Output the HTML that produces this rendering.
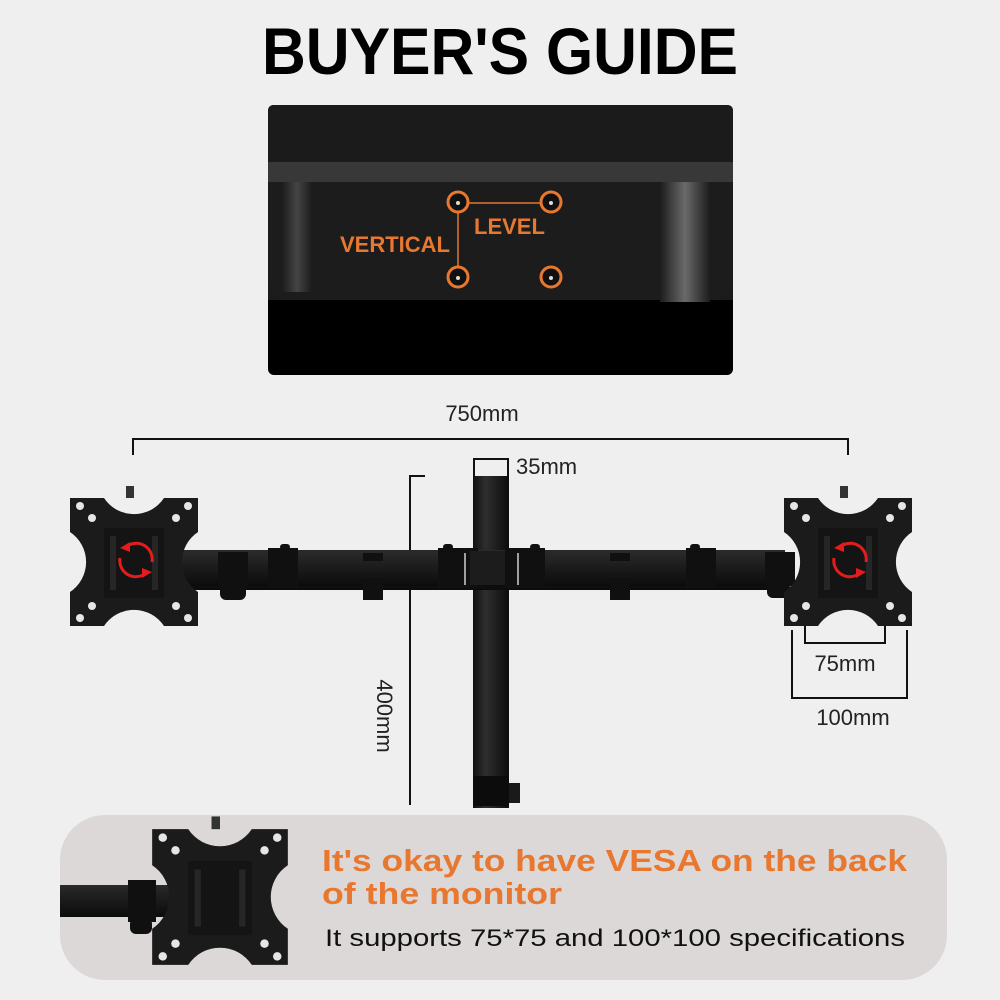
<!DOCTYPE html>
<html><head><meta charset="utf-8"><style>
html,body{margin:0;padding:0;background:#efefef;}
svg{display:block;}
text{font-family:"Liberation Sans","DejaVu Sans",sans-serif;}
</style></head><body>
<svg width="1000" height="1000" viewBox="0 0 1000 1000" xmlns="http://www.w3.org/2000/svg">
<defs>
<linearGradient id="pole" x1="0" x2="1" y1="0" y2="0">
<stop offset="0" stop-color="#111"/><stop offset="0.35" stop-color="#2e2e2e"/><stop offset="1" stop-color="#0c0c0c"/>
</linearGradient>
<linearGradient id="arm" x1="0" x2="0" y1="0" y2="1">
<stop offset="0" stop-color="#2a2a2a"/><stop offset="0.5" stop-color="#1a1a1a"/><stop offset="1" stop-color="#0c0c0c"/>
</linearGradient>
<linearGradient id="shine" x1="0" x2="1">
<stop offset="0" stop-color="#1c1c1c"/><stop offset="0.5" stop-color="#6a6a6a"/><stop offset="1" stop-color="#1c1c1c"/>
</linearGradient>
<linearGradient id="shine2" x1="0" x2="1">
<stop offset="0" stop-color="#1c1c1c"/><stop offset="0.5" stop-color="#444"/><stop offset="1" stop-color="#1c1c1c"/>
</linearGradient>
<g id="plate">
<path d="M-64,-64 L-30,-64 A36,36 0 0 0 30,-64 L64,-64 L64,-30 A36,36 0 0 0 64,30 L64,64 L30,64 A36,36 0 0 0 -30,64 L-64,64 L-64,30 A36,36 0 0 0 -64,-30 Z" fill="#1b1b1b"/>
<rect x="-30" y="-34" width="60" height="70" fill="#141414"/>
<rect x="-24" y="-26" width="6" height="54" fill="#262626"/>
<rect x="18" y="-26" width="6" height="54" fill="#262626"/>
<rect x="-8" y="-76" width="8" height="12" fill="#333"/>
<g fill="#e6e6e6">
<circle cx="-54" cy="-56" r="4"/><circle cx="54" cy="-56" r="4"/><circle cx="-54" cy="56" r="4"/><circle cx="54" cy="56" r="4"/>
<circle cx="-42" cy="-44" r="4"/><circle cx="42" cy="-44" r="4"/><circle cx="-42" cy="44" r="4"/><circle cx="42" cy="44" r="4"/>
</g>
</g>
<g id="rot">
<path d="M-10,-13 A16,16 0 0 1 16,2" fill="none" stroke="#e51c1c" stroke-width="3"/>
<path d="M10,13 A16,16 0 0 1 -16,-2" fill="none" stroke="#e51c1c" stroke-width="3"/>
<path d="M-16,-12 L-6,-18 L-6,-8 Z" fill="#e51c1c"/>
<path d="M16,12 L6,18 L6,8 Z" fill="#e51c1c"/>
</g>
</defs>

<text x="500" y="74" text-anchor="middle" font-size="66" font-weight="bold" textLength="476" lengthAdjust="spacingAndGlyphs" fill="#000">BUYER'S GUIDE</text>

<!-- monitor -->
<rect x="268" y="105" width="465" height="270" rx="6" fill="#000"/>
<path d="M274,105 H727 Q733,105 733,111 V300 H268 V111 Q268,105 274,105 Z" fill="#1b1b1b"/>
<rect x="268" y="162" width="465" height="20" fill="#383838"/>
<path d="M268,182 H733 V280 Q733,298 712,298 H290 Q268,298 268,280 Z" fill="#1c1c1c"/>
<rect x="282" y="182" width="30" height="110" fill="url(#shine2)"/>
<rect x="660" y="182" width="50" height="120" fill="url(#shine)"/>
<g stroke="#e8782f" fill="#111">
<line x1="458" y1="203" x2="551" y2="203" stroke-width="2" stroke="#b0602a"/>
<line x1="458" y1="203" x2="458" y2="277" stroke-width="2" stroke="#b0602a"/>
<circle cx="458" cy="202" r="10" stroke-width="3"/>
<circle cx="551" cy="202" r="10" stroke-width="3"/>
<circle cx="458" cy="277" r="10" stroke-width="3"/>
<circle cx="551" cy="277" r="10" stroke-width="3"/>
</g>
<g fill="#ddd"><circle cx="458" cy="203" r="2"/><circle cx="551" cy="203" r="2"/><circle cx="458" cy="278" r="2"/><circle cx="551" cy="278" r="2"/></g>
<text x="340" y="252" font-size="22" font-weight="bold" fill="#e8782f">VERTICAL</text>
<text x="474" y="234" font-size="22" font-weight="bold" fill="#e8782f">LEVEL</text>

<!-- dimensions -->
<g stroke="#111" stroke-width="2" fill="none">
<path d="M133,455 V439 H848 V455"/>
<path d="M474,476 V459 H508 V476"/>
<path d="M425,476 H410 V805"/>
<path d="M805,622 V643 H885 V622"/>
<path d="M792,630 V698 H907 V630"/>
</g>
<g font-size="22" fill="#222">
<text x="482" y="421" text-anchor="middle">750mm</text>
<text x="516" y="474">35mm</text>
<text x="845" y="671" text-anchor="middle">75mm</text>
<text x="853" y="725" text-anchor="middle">100mm</text>
<text transform="translate(377,716) rotate(90)" text-anchor="middle">400mm</text>
</g>

<!-- pole -->
<rect x="473" y="476" width="36" height="332" fill="url(#pole)"/>
<rect x="473" y="776" width="36" height="30" fill="#0c0c0c"/>
<rect x="509" y="783" width="11" height="20" fill="#1a1a1a"/>

<!-- arm -->
<path d="M170,550 H785 V590 H170 Z" fill="url(#arm)"/>
<rect x="165" y="552" width="620" height="34" fill="url(#arm)"/>
<g fill="#101010">
<rect x="218" y="552" width="30" height="34"/><rect x="220" y="584" width="26" height="16" rx="6"/>
<rect x="268" y="548" width="30" height="40"/><rect x="280" y="544" width="10" height="6" rx="3"/>
<rect x="363" y="553" width="20" height="8"/><rect x="363" y="578" width="20" height="22"/>
<rect x="438" y="548" width="40" height="40"/><rect x="443" y="544" width="10" height="6" rx="3"/>
<rect x="470" y="551" width="42" height="34" fill="#1c1c1c"/>
<rect x="505" y="548" width="40" height="40"/><rect x="530" y="544" width="10" height="6" rx="3"/>
<rect x="610" y="553" width="20" height="8"/><rect x="610" y="578" width="20" height="22"/>
<rect x="686" y="548" width="30" height="40"/><rect x="690" y="544" width="10" height="6" rx="3"/>
<rect x="765" y="552" width="30" height="34"/><rect x="767" y="584" width="24" height="14" rx="6"/>
</g>
<g stroke="#cfcfcf" stroke-width="1.5">
<line x1="465" y1="553" x2="465" y2="585"/><line x1="518" y1="553" x2="518" y2="585"/>
</g>

<!-- plates -->
<use href="#plate" transform="translate(134,562)"/>
<use href="#plate" transform="translate(848,562)"/>
<use href="#rot" transform="translate(136,560)"/>
<use href="#rot" transform="translate(850,560)"/>

<!-- bottom panel -->
<rect x="60" y="815" width="887" height="165" rx="45" fill="#dcd8d8"/>
<rect x="60" y="885" width="110" height="32" fill="url(#arm)"/>
<rect x="128" y="880" width="28" height="42" fill="#101010"/>
<rect x="130" y="918" width="22" height="16" rx="6" fill="#101010"/>
<use href="#plate" transform="translate(220,897) scale(1.06)"/>
<text x="322" y="871" font-size="31" font-weight="bold" fill="#e8782f" textLength="585" lengthAdjust="spacingAndGlyphs">It's okay to have VESA on the back</text>
<text x="322" y="904" font-size="31" font-weight="bold" fill="#e8782f" textLength="240" lengthAdjust="spacingAndGlyphs">of the monitor</text>
<text x="325" y="946" font-size="24" fill="#111" textLength="580" lengthAdjust="spacingAndGlyphs">It supports 75*75 and 100*100 specifications</text>
</svg>
</body></html>
